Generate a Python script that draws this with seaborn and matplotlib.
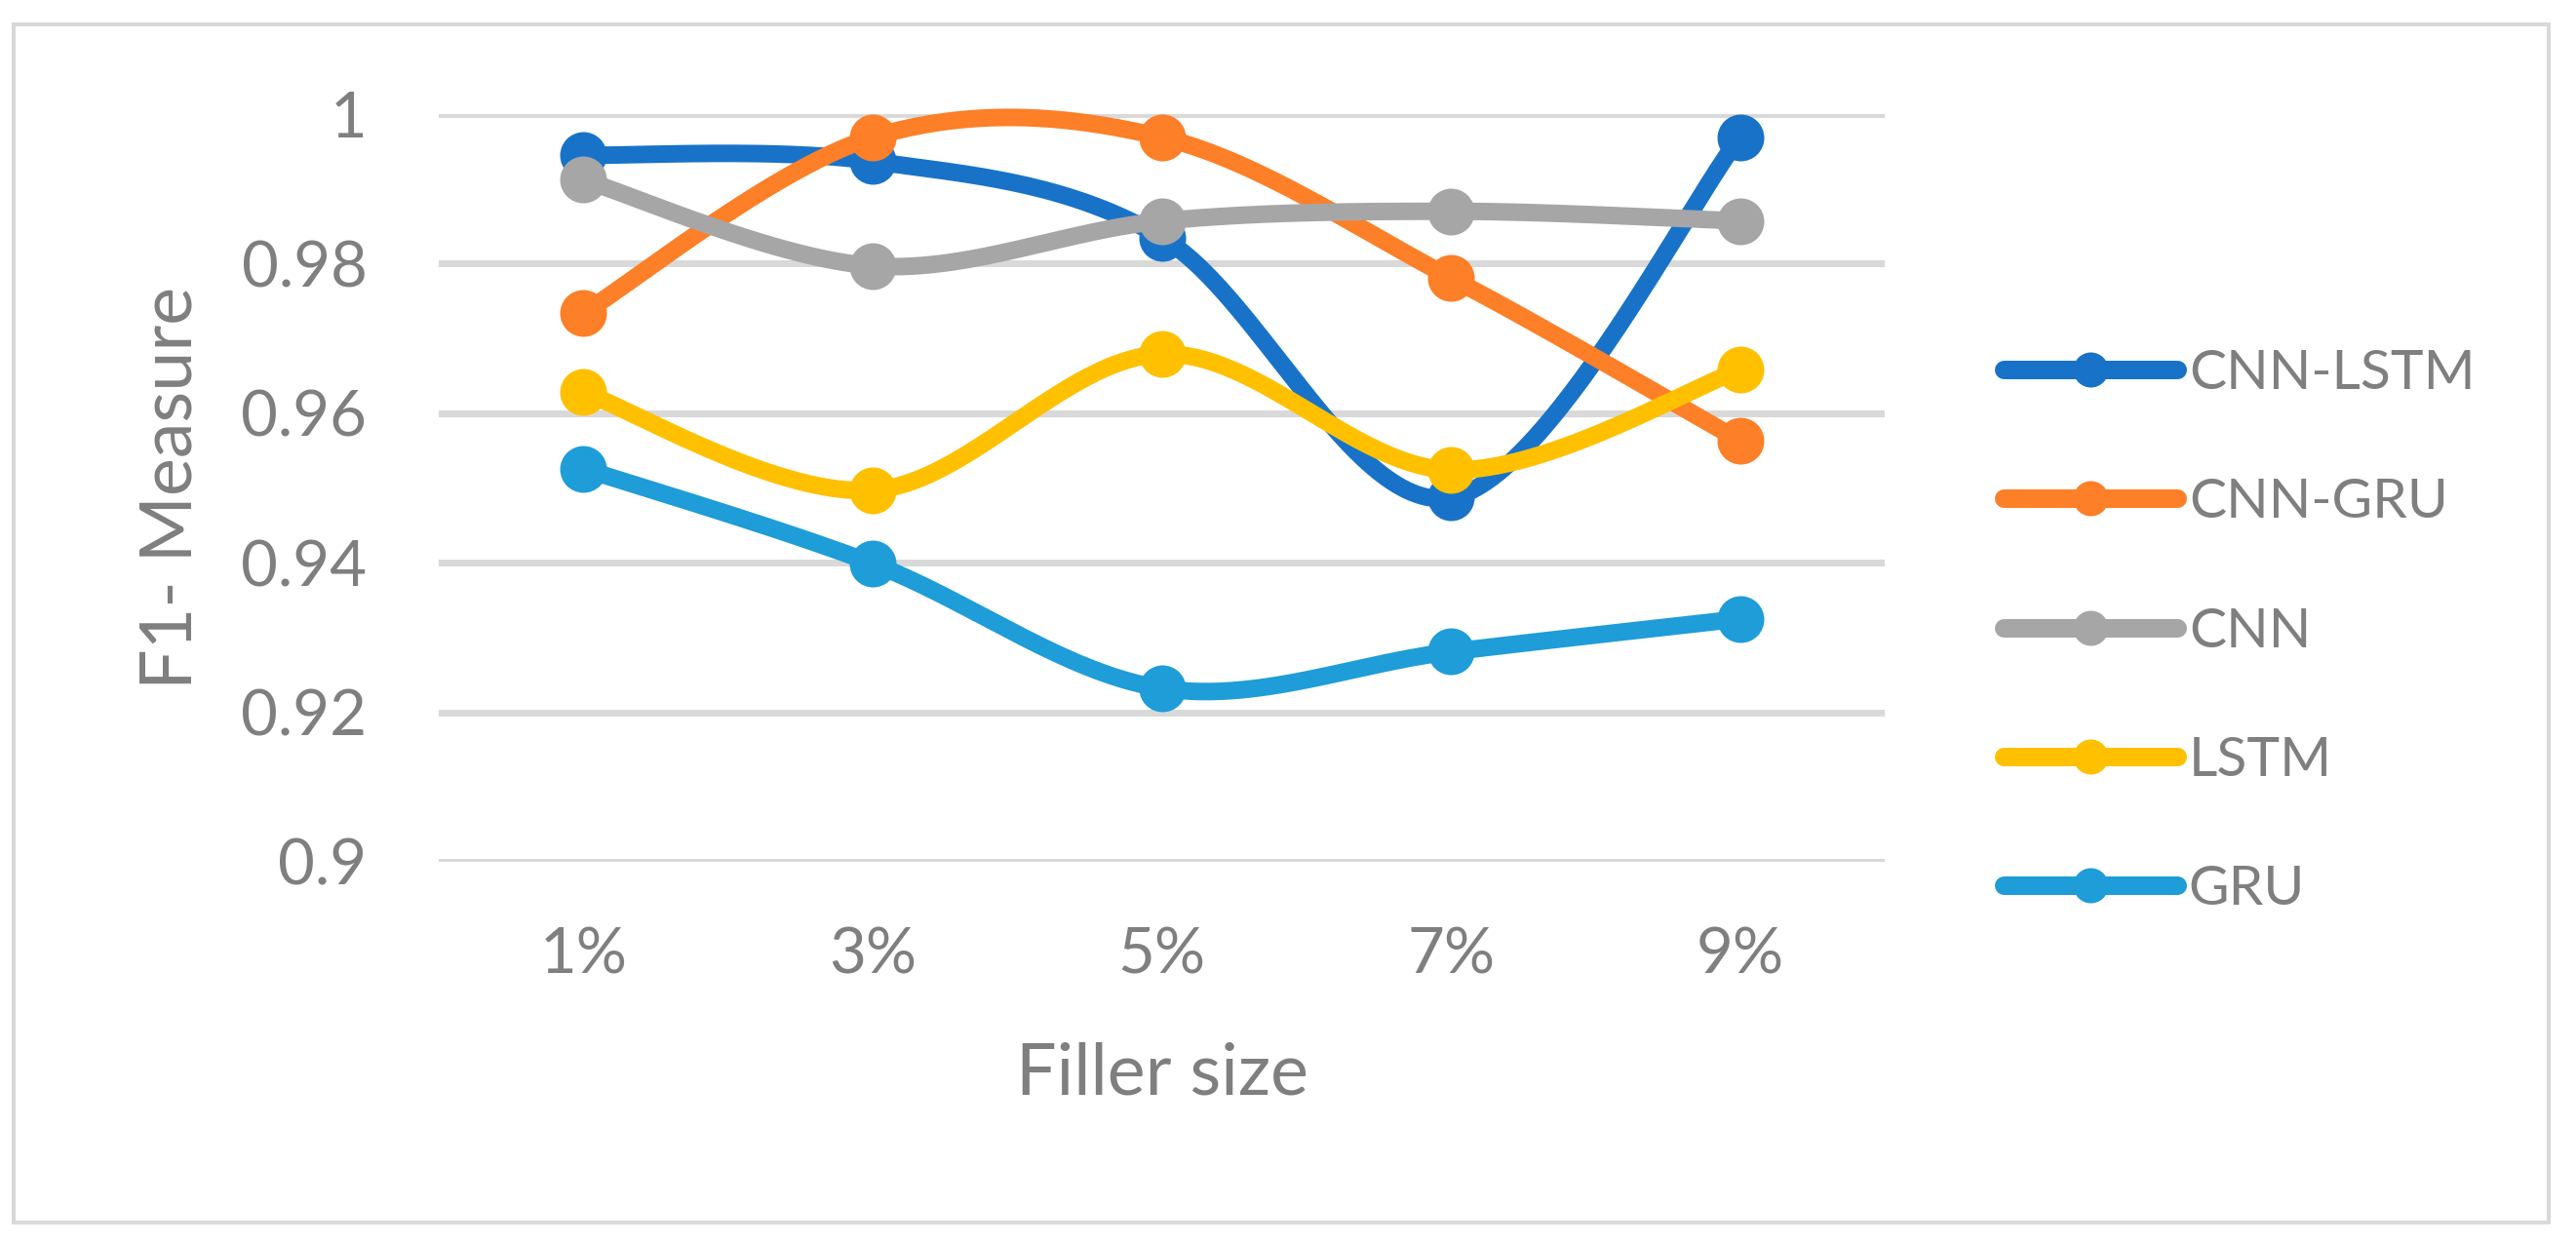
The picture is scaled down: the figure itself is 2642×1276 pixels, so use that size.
import numpy as np
import pandas as pd
import matplotlib
matplotlib.use("Agg")
import matplotlib.pyplot as plt
import seaborn as sns
from matplotlib.lines import Line2D
from matplotlib.patches import Rectangle

# ---------------- data ----------------
categories = ["1%", "3%", "5%", "7%", "9%"]
cnn_lstm = [0.9945, 0.9937, 0.9835, 0.9487, 0.9969]
cnn_gru = [0.9734, 0.9969, 0.9969, 0.9781, 0.9563]
cnn = [0.9912, 0.9797, 0.9857, 0.9870, 0.9857]
lstm = [0.9628, 0.9497, 0.9679, 0.9524, 0.9658]
gru = [0.9526, 0.9399, 0.9232, 0.9281, 0.9325]
series_names = ["CNN-LSTM", "CNN-GRU", "CNN", "LSTM", "GRU"]
series_values = [cnn_lstm, cnn_gru, cnn, lstm, gru]
colors = ["#1873C8", "#FD7F27", "#A6A6A6", "#FFC000", "#1E9DD8"]
y_ticks = [0.9, 0.92, 0.94, 0.96, 0.98, 1.0]
y_tick_labels = ["0.9", "0.92", "0.94", "0.96", "0.98", "1"]
x_title = "Filler size"
y_title = "F1- Measure"

TEXT = "#7F7F7F"
GRID = "#D9D9D9"

sns.set_theme(style="white")
plt.rcParams["font.family"] = ["Lato", "DejaVu Sans"]

DPI = 100
W, H = 2642, 1276
fig = plt.figure(figsize=(W / DPI, H / DPI), dpi=DPI)
px = 72.0 / DPI  # points per pixel

ax_l, ax_r, ax_t, ax_b = 450, 1933, 117, 884
ax = fig.add_axes([ax_l / W, 1 - ax_b / H, (ax_r - ax_l) / W, (ax_b - ax_t) / H])


def excel_smooth(x, y, n=60):
    P = np.column_stack([x, y]).astype(float)
    ext = np.vstack([P[0], P, P[-1]])
    t = np.linspace(0, 1, n)[:, None]
    out = []
    for i in range(len(P) - 1):
        p0 = ext[i + 1]
        p3 = ext[i + 2]
        c1 = p0 + (ext[i + 2] - ext[i]) / 6.0
        c2 = p3 - (ext[i + 3] - ext[i + 1]) / 6.0
        seg = (1 - t) ** 3 * p0 + 3 * (1 - t) ** 2 * t * c1 + 3 * (1 - t) * t ** 2 * c2 + t ** 3 * p3
        out.append(seg if i == 0 else seg[1:])
    return np.vstack(out)


xpos = np.arange(len(categories))
lw = 18 * px
msize = 48 * px
for k, (name, vals, col) in enumerate(zip(series_names, series_values, colors)):
    curve = excel_smooth(xpos, vals)
    df = pd.DataFrame({"x": curve[:, 0], "y": curve[:, 1]})
    sns.lineplot(data=df, x="x", y="y", sort=False, estimator=None, color=col,
                 linewidth=lw, ax=ax, zorder=3 + 2 * k, legend=False)
    ax.lines[-1].set_solid_capstyle("round")
    ax.lines[-1].set_solid_joinstyle("round")
    ax.lines[-1].set_clip_on(False)
    pts = pd.DataFrame({"x": xpos, "y": vals})
    sns.scatterplot(data=pts, x="x", y="y", color=col, s=msize ** 2, linewidth=0,
                    ax=ax, zorder=4 + 2 * k, legend=False)
    ax.collections[-1].set_clip_on(False)

ax.set_xlim(-0.5, len(categories) - 0.5)
ax.set_ylim(0.9, 1.0)
ax.set_xticks(xpos)
ax.set_xticklabels(categories)
ax.set_yticks(y_ticks)
ax.set_yticklabels(y_tick_labels)
ax.tick_params(axis="both", length=0, colors=TEXT, labelsize=47)
ax.tick_params(axis="x", pad=48)
ax.tick_params(axis="y", pad=53)
for s in ax.spines.values():
    s.set_visible(False)
ax.grid(axis="y", color=GRID, linewidth=7 * px)
ax.grid(axis="x", visible=False)
ax.set_axisbelow(True)

ax.set_xlabel(x_title, fontsize=53, color=TEXT)
ax.set_ylabel(y_title, fontsize=53, color=TEXT)
ax.xaxis.label.set_va("center")
ax.xaxis.set_label_coords(0.5, -(1102 - ax_b) / (ax_b - ax_t))
ax.yaxis.label.set_va("center")
ax.yaxis.set_label_coords(-(ax_l - 176) / (ax_r - ax_l), 0.5)

handles = [Line2D([0], [0], color=c, lw=19 * px, marker="o", markersize=36 * px,
                  markeredgewidth=0, solid_capstyle="round") for c in colors]
leg = fig.legend(handles, series_names, loc="center left",
                 bbox_to_anchor=(2055 / W, 1 - 648 / H), frameon=False,
                 fontsize=41, handlelength=178 / 57, handletextpad=12 / 57,
                 labelspacing=1.43, borderpad=0, borderaxespad=0)
for t in leg.get_texts():
    t.set_color(TEXT)

fig.patches.append(Rectangle((14 / W, 1 - 1254 / H), (2614 - 14) / W, (1254 - 25) / H,
                             transform=fig.transFigure, fill=False, edgecolor=GRID,
                             linewidth=4 * px, zorder=0))

fig.savefig("out.png", dpi=DPI, facecolor="white")
